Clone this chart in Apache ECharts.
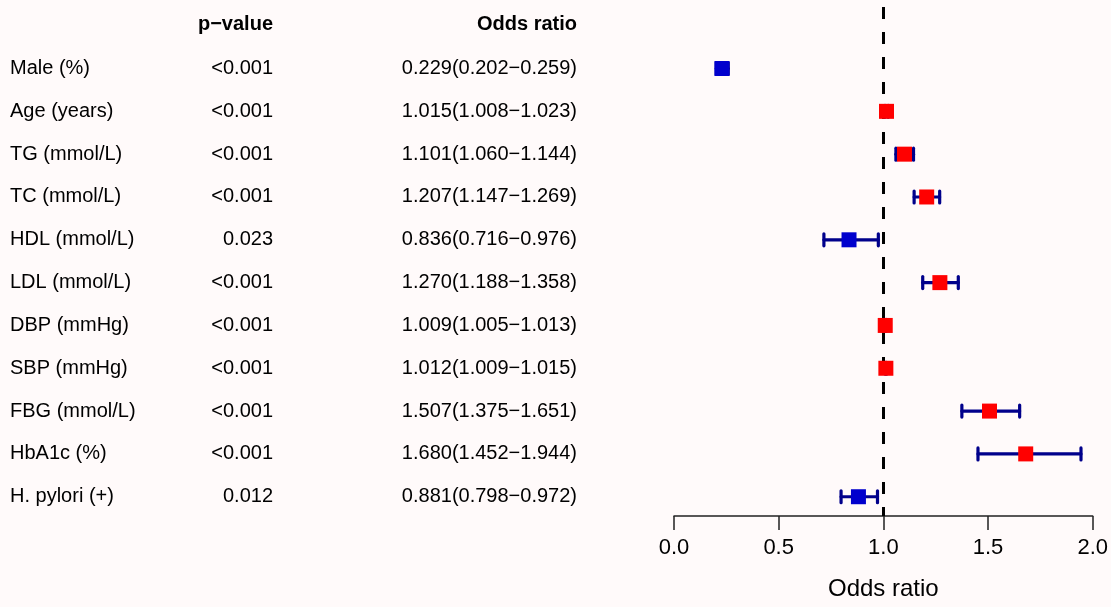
<!DOCTYPE html>
<html>
<head>
<meta charset="utf-8">
<script src="https://cdn.jsdelivr.net/npm/echarts@6/dist/echarts.min.js"></script>
<style>
html,body{margin:0;padding:0;background:#FFFAFA;}
#c{width:1111px;height:607px;}
</style>
</head>
<body>
<div id="c"></div>
<script>
// ---- data ----
var names = ['Male (%)','Age (years)','TG (mmol/L)','TC (mmol/L)','HDL (mmol/L)','LDL (mmol/L)','DBP (mmHg)','SBP (mmHg)','FBG (mmol/L)','HbA1c (%)','H. pylori (+)'];
var pvals = ['<0.001','<0.001','<0.001','<0.001','0.023','<0.001','<0.001','<0.001','<0.001','<0.001','0.012'];
var orVals = [0.229,1.015,1.101,1.207,0.836,1.270,1.009,1.012,1.507,1.680,0.881];
var ciLow  = [0.202,1.008,1.060,1.147,0.716,1.188,1.005,1.009,1.375,1.452,0.798];
var ciHigh = [0.259,1.023,1.144,1.269,0.976,1.358,1.013,1.015,1.651,1.944,0.972];
var xTicks = [0, 0.5, 1.0, 1.5, 2.0];
var headers = ['p\u2212value','Odds ratio'];
var refLine = 1;

// ---- layout ----
var FONT = '"Liberation Sans", Arial, Helvetica, sans-serif';
var Y_MIN = -1.6, Y_MAX = 10.45;
var GRID_TOP = 0, GRID_H = 516;
var COL_NAME = 10, COL_P = 273, COL_OR = 577;

var orText = orVals.map(function(v,i){
  return v.toFixed(3)+'('+ciLow[i].toFixed(3)+'\u2212'+ciHigh[i].toFixed(3)+')';
});

var chart = echarts.init(document.getElementById('c'), null, {renderer:'canvas'});

function textSeries(x, texts, align, bold, startRow){
  return {
    type:'scatter', xAxisIndex:1, yAxisIndex:1, symbolSize:0, silent:true,
    itemStyle:{opacity:1},
    data: texts.map(function(t,i){ return {value:[x, startRow+i], txt:t}; }),
    label:{show:true, position: align==='left' ? 'right' : 'left', distance:0,
      formatter:function(p){return p.data.txt;}, opacity:1,
      color:'#000', fontSize:20, fontFamily:FONT, fontWeight: bold?'bold':'normal'}
  };
}

var option = {
  backgroundColor:'#FFFAFA',
  animation:false,
  grid:[
    {left:674, right:18, top:GRID_TOP, height:GRID_H, containLabel:false},
    {left:0, width:674, top:GRID_TOP, height:GRID_H, containLabel:false}
  ],
  xAxis:[
    {type:'value', gridIndex:0, min:xTicks[0], max:xTicks[xTicks.length-1], interval:xTicks[1]-xTicks[0],
     axisLine:{show:true, onZero:false, lineStyle:{color:'#222', width:1.5}},
     axisTick:{show:true, inside:false, length:14, lineStyle:{color:'#222', width:1.5}},
     axisLabel:{show:true, margin:21, color:'#000', fontSize:22, fontFamily:FONT,
       formatter:function(v){return v.toFixed(1);}},
     splitLine:{show:false},
     name:'Odds ratio', nameLocation:'middle', nameGap:61,
     nameTextStyle:{color:'#000', fontSize:24, fontFamily:FONT}},
    {type:'value', gridIndex:1, min:0, max:674, show:false}
  ],
  yAxis:[
    {type:'value', gridIndex:0, min:Y_MIN, max:Y_MAX, inverse:true, show:false},
    {type:'value', gridIndex:1, min:Y_MIN, max:Y_MAX, inverse:true, show:false}
  ],
  series:[
    {
      type:'line', xAxisIndex:0, yAxisIndex:0, z:1, silent:true, data:[],
      markLine:{
        silent:true, symbol:'none', label:{show:false}, z:1,
        lineStyle:{color:'#000', width:3, type:[12,13], dashOffset:18, opacity:1},
        data:[{xAxis:refLine}]
      }
    },
    {
      type:'custom', xAxisIndex:0, yAxisIndex:0, z:2, silent:true,
      data: orVals.map(function(v,i){return [ciLow[i], ciHigh[i], i];}),
      renderItem:function(params, api){
        var a = api.coord([api.value(0), api.value(2)]);
        var b = api.coord([api.value(1), api.value(2)]);
        var h = 6;
        var st = {stroke:'#00008B', lineWidth:3.2, lineCap:'round'};
        return {type:'group', children:[
          {type:'line', shape:{x1:a[0],y1:a[1],x2:b[0],y2:b[1]}, style:st},
          {type:'line', shape:{x1:a[0],y1:a[1]-h,x2:a[0],y2:a[1]+h}, style:st},
          {type:'line', shape:{x1:b[0],y1:b[1]-h,x2:b[0],y2:b[1]+h}, style:st}
        ]};
      }
    },
    {
      type:'scatter', xAxisIndex:0, yAxisIndex:0, z:3, silent:true,
      symbol:'rect', symbolSize:15,
      data: orVals.map(function(v,i){return [v, i];}),
      itemStyle:{opacity:1, color:function(p){return p.data[0] < 1 ? '#0000CD' : '#FF0000';}}
    },
    textSeries(COL_NAME, names, 'left', false, 0),
    textSeries(COL_P, pvals, 'right', false, 0),
    textSeries(COL_OR, orText, 'right', false, 0),
    textSeries(COL_P, [headers[0]], 'right', true, -1.03),
    textSeries(COL_OR, [headers[1]], 'right', true, -1.03)
  ]
};
chart.setOption(option);
</script>
</body>
</html>
